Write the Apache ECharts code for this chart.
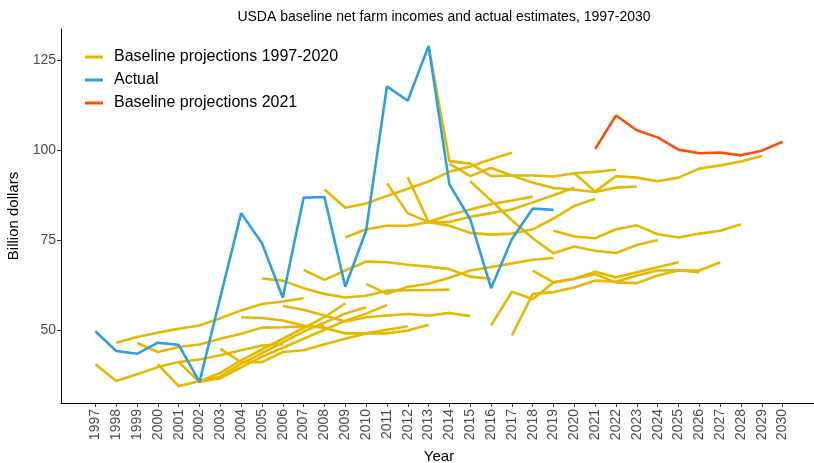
<!DOCTYPE html>
<html>
<head>
<meta charset="utf-8">
<script src="https://cdn.jsdelivr.net/npm/echarts@6/dist/echarts.min.js"></script>
<style>html,body{margin:0;padding:0;background:#fff}#c{width:814px;height:463px}</style>
</head>
<body>
<div id="c"></div>
<script>
// Years on the axis
const years = [];
for (let y = 1997; y <= 2030; y++) years.push(y);
const yTicks = [50, 75, 100, 125];

// Actual estimates, 1997-2019
const actualStart = 1997;
const actual = [49.6, 44.1, 43.3, 46.4, 45.8, 35.5, 59.0, 82.5, 74.1, 58.9, 86.8, 87.0, 62.0, 77.6, 117.8, 113.8, 129.1, 90.5, 80.8, 61.6, 75.2, 83.8, 83.4];

// Baseline projections 2021 (2021-2030)
const base2021Start = 2021;
const base2021 = [100.4, 109.7, 105.6, 103.6, 100.2, 99.2, 99.4, 98.6, 99.9, 102.4];

// Baseline projections 1997-2020, each starting in its baseline year
const b1997 = [40.4, 35.7, 37.6, 39.6, 41.0, 41.7, 42.9, 44.3, 45.6, 46.0];
const b1998 = [46.4, 48.0, 49.2, 50.3, 51.2, 53.2, 55.4, 57.2, 57.9, 58.8];
const b1999 = [46.3, 43.8, 45.2, 45.9, 47.5, 48.9, 50.6, 50.7, 50.9, 51.0];
const b2000 = [40.4, 34.3, 35.7, 38.0, 41.5, 44.5, 47.5, 50.5, 53.5, 57.4];
const b2001 = [41.0, 35.5, 37.0, 40.5, 43.5, 46.5, 49.5, 52.0, 54.5, 56.3];
const b2002 = [35.5, 36.5, 39.5, 42.5, 45.0, 47.5, 50.0, 52.5, 54.5, 56.9];
const b2003 = [44.7, 41.0, 41.0, 43.8, 44.3, 46.0, 47.5, 49.0, 50.0, 51.0];
const b2004 = [53.5, 53.3, 52.6, 51.2, 50.5, 49.0, 49.0, 49.0, 49.8, 51.4];
const b2005 = [64.3, 63.7, 61.6, 60.0, 59.0, 59.5, 60.9, 61.0, 61.0, 61.2];
const b2006 = [56.6, 55.6, 54.0, 52.3, 53.5, 54.0, 54.4, 54.0, 54.7, 53.8];
const b2007 = [66.7, 63.9, 66.5, 69.0, 68.8, 68.1, 67.6, 66.9, 64.8, 64.2];
const b2008 = [89.1, 84.0, 85.2, 87.3, 89.3, 91.3, 94.0, 95.5, 97.5, 99.3];
const b2009 = [75.7, 78.0, 79.0, 79.0, 80.0, 82.0, 83.5, 85.0, 86.0, 87.1];
const b2010 = [62.8, 60.0, 62.0, 62.8, 64.5, 66.5, 67.5, 68.5, 69.5, 70.0];
const b2011 = [90.8, 82.5, 80.0, 80.0, 81.5, 82.5, 83.5, 85.5, 87.5, 89.6];
const b2012 = [92.5, 80.0, 79.0, 77.0, 76.5, 76.8, 78.0, 81.0, 84.5, 86.5];
const b2013 = [129.0, 97.0, 96.3, 92.8, 93.0, 93.0, 92.7, 93.6, 94.0, 94.6];
const b2014 = [96.3, 92.8, 95.1, 93.0, 91.0, 89.5, 89.0, 88.4, 89.6, 89.9];
const b2015 = [91.4, 86.0, 80.5, 75.5, 71.3, 73.2, 72.0, 71.4, 73.6, 75.0];
const b2016 = [51.2, 60.6, 58.6, 63.2, 64.2, 66.2, 64.6, 66.0, 67.4, 68.8];
const b2017 = [48.4, 60.0, 60.5, 61.8, 63.7, 63.4, 65.1, 66.5, 66.6, 66.0];
const b2018 = [66.5, 63.2, 64.2, 65.5, 63.2, 63.0, 65.1, 66.5, 66.5, 68.8];
const b2019 = [77.6, 76.0, 75.5, 78.0, 79.1, 76.6, 75.7, 76.8, 77.6, 79.4];
const b2020 = [93.6, 88.5, 92.8, 92.4, 91.4, 92.4, 94.9, 95.8, 96.9, 98.4];

const baselineStarts = [1997,1998,1999,2000,2001,2002,2003,2004,2005,2006,2007,2008,2009,2010,2011,2012,2013,2014,2015,2016,2017,2018,2019,2020];
const baselines = [b1997,b1998,b1999,b2000,b2001,b2002,b2003,b2004,b2005,b2006,b2007,b2008,b2009,b2010,b2011,b2012,b2013,b2014,b2015,b2016,b2017,b2018,b2019,b2020];

const YELLOW = '#E7B800', BLUE = '#2E9FDF', RED = '#FC4E07';
const FONT = 'Liberation Sans, Arial, sans-serif';

function pairs(start, vals) { return vals.map((v, i) => [start + i, v]); }

const series = [];
baselines.forEach((vals, k) => {
  series.push({
    name: 'Baseline projections 1997-2020', type: 'line', symbol: 'none',
    data: pairs(baselineStarts[k], vals),
    lineStyle: { color: YELLOW, width: 2.6 }, itemStyle: { color: YELLOW },
    z: 2, silent: true
  });
});
series.push({
  name: 'Actual', type: 'line', symbol: 'none', data: pairs(actualStart, actual),
  lineStyle: { color: BLUE, width: 2.6 }, itemStyle: { color: BLUE }, z: 3
});
series.push({
  name: 'Baseline projections 2021', type: 'line', symbol: 'none', data: pairs(base2021Start, base2021),
  lineStyle: { color: RED, width: 2.6 }, itemStyle: { color: RED }, z: 3
});

const chart = echarts.init(document.getElementById('c'), null, { renderer: 'canvas' });
chart.setOption({
  animation: false,
  backgroundColor: '#fff',
  textStyle: { fontFamily: FONT },
  title: {
    text: 'USDA baseline net farm incomes and actual estimates, 1997-2030',
    left: 439, top: 5, textAlign: 'center',
    textStyle: { fontFamily: FONT, fontSize: 14, fontWeight: 'normal', color: '#000' }
  },
  legend: {
    data: ['Baseline projections 1997-2020', 'Actual', 'Baseline projections 2021'],
    orient: 'vertical', left: 85, top: 48, padding: 0, icon: 'rect', itemWidth: 18, itemHeight: 3, itemGap: 5,
    textStyle: { fontFamily: FONT, fontSize: 16, color: '#000', padding: [0, 0, 0, 6], lineHeight: 18 }
  },
  grid: { left: 61, top: 29, width: 756, height: 374, outerBoundsMode: 'none', containLabel: false },
  xAxis: {
    type: 'value', min: 1995.35, max: 2031.65,
    name: 'Year', nameLocation: 'middle', nameGap: 46,
    nameTextStyle: { fontFamily: FONT, fontSize: 15, color: '#000' },
    axisLine: { show: true, lineStyle: { color: '#000', width: 1 } },
    axisTick: { show: true, customValues: years, length: 4, lineStyle: { color: '#333' } },
    axisLabel: { customValues: years, rotate: 90, fontSize: 14, color: '#4d4d4d', fontFamily: FONT, margin: 6,
      formatter: v => String(v) },
    splitLine: { show: false }
  },
  yAxis: {
    type: 'value', min: 29.6, max: 133.8,
    name: 'Billion dollars', nameLocation: 'middle', nameGap: 35, nameRotate: 90,
    nameTextStyle: { fontFamily: FONT, fontSize: 15, color: '#000' },
    axisLine: { show: true, lineStyle: { color: '#000', width: 1 } },
    axisTick: { show: true, customValues: yTicks, length: 4, lineStyle: { color: '#333' } },
    axisLabel: { customValues: yTicks, fontSize: 14, color: '#4d4d4d', fontFamily: FONT, margin: 5,
      formatter: v => String(v) },
    splitLine: { show: false }
  },
  series: series
});
</script>
</body>
</html>
